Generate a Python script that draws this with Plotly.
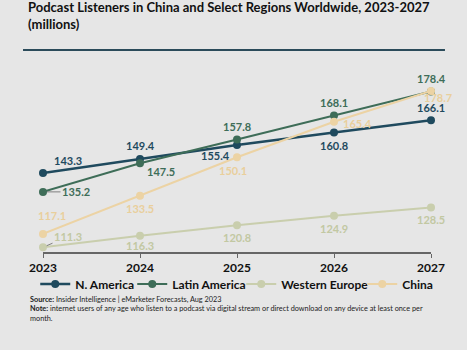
import plotly.graph_objects as go

years = [2023, 2024, 2025, 2026, 2027]
tick_labels = ["2023", "2024", "2025", "2026", "2027"]
series_names = ["N. America", "Latin America", "Western Europe", "China"]
n_america = [143.3, 149.4, 155.4, 160.8, 166.1]
latin_america = [135.2, 147.5, 157.8, 168.1, 178.4]
western_europe = [111.3, 116.3, 120.8, 124.9, 128.5]
china = [117.1, 133.5, 150.1, 165.4, 178.7]

colors = ["#1f4a5e", "#3e6d58", "#c9cead", "#ecd3a4"]
label_colors = ["#1f4a5e", "#3e6d58", "#c2c8a2", "#e9cf9c"]
widths = [2.5, 2, 2, 2]
legend_widths = [52, 64, 76, 28]
all_values = [n_america, latin_america, western_europe, china]

# label offsets in pixels (dx, dy, leader)
offsets = [
    [(25, -13, False), (0, -13, False), (-22, 11, False), (0, 13, False), (0, -13, False)],
    [(33, 0, True), (21, 8, False), (0, -13, False), (0, -13, False), (0, -13, False)],
    [(25, -11, True), (0, 10, False), (0, 12, False), (0, 13, False), (0, 12, False)],
    [(9, -18, False), (0, 13, False), (-4, 13, False), (23, 2, False), (7, 7, False)],
]

BG = "#e6e6e6"
FONT = "Lato"
fig = go.Figure()
for name, vals, c, w, lw in zip(series_names, all_values, colors, widths, legend_widths):
    fig.add_trace(go.Scatter(
        x=years, y=vals, name=name, mode="lines+markers",
        line=dict(color=c, width=w), marker=dict(color=c, size=8),
        cliponaxis=False, legendwidth=lw,
    ))

annotations = []
for vals, lc, offs in zip(all_values, label_colors, offsets):
    for x, v, (dx, dy, leader) in zip(years, vals, offs):
        if leader:
            annotations.append(dict(
                x=x, y=v, xref="x", yref="y", text=f"{v:.1f}",
                showarrow=True, arrowhead=0, arrowwidth=0.8, arrowcolor="#666",
                ax=dx, ay=dy, standoff=4,
                font=dict(family=FONT, size=11, color=lc, weight="bold"),
            ))
        else:
            annotations.append(dict(
                x=x, y=v, xref="x", yref="y", text=f"{v:.1f}",
                showarrow=False, xshift=dx, yshift=-dy,
                font=dict(family=FONT, size=11, color=lc, weight="bold"),
            ))

annotations.append(dict(
    xref="paper", yref="paper", x=-0.0387, y=-0.225, xanchor="left", yanchor="top",
    align="left", showarrow=False,
    text=("<b>Source:</b> Insider Intelligence | eMarketer Forecasts, Aug 2023<br>"
          "<b>Note:</b> internet users of any age who listen to a podcast via digital stream or direct download on any device at least once per<br>"
          "month."),
    font=dict(family=FONT, size=7.3, color="#222"),
))

fig.update_layout(
    width=467, height=350,
    paper_bgcolor=BG, plot_bgcolor=BG,
    margin=dict(l=43, r=36, t=70, b=98),
    title=dict(
        text="Podcast Listeners in China and Select Regions Worldwide, 2023-2027<br>(millions)",
        xref="container", yref="container", x=28/467, y=1-12/350,
        xanchor="left", yanchor="top",
        font=dict(family=FONT, size=13, color="#111", weight="bold"),
    ),
    showlegend=True,
    legend=dict(
        orientation="h", x=-0.02, y=-0.176, xanchor="left", yanchor="middle",
        font=dict(family=FONT, size=12, color="#111", weight="bold"),
        bgcolor="rgba(0,0,0,0)", tracegroupgap=0,
    ),
    annotations=annotations,
    shapes=[dict(type="rect", xref="paper", yref="paper", layer="above",
                 x0=-0.0515, x1=1.036, y0=1.105, y1=1.115,
                 fillcolor="#2b4b5a", line=dict(width=0))],
)
fig.update_xaxes(
    range=[2023, 2027], tickvals=years, ticktext=tick_labels,
    showgrid=False, zeroline=False, showline=True, linecolor="#666", linewidth=1.5,
    ticks="outside", ticklen=4, tickcolor="#666",
    tickfont=dict(family=FONT, size=12, color="#111", weight="bold"),
)
fig.update_yaxes(range=[109.3, 187.7], visible=False)

fig.write_html("out.html")
